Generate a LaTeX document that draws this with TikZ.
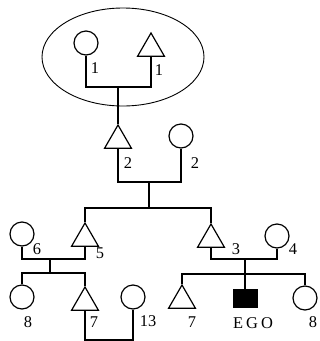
\documentclass[tikz,border=0pt]{standalone}
\usepackage{fontspec}
\setmainfont{Liberation Serif}
\usepackage{tikz}
\usetikzlibrary{shapes.geometric}

\tikzset{
  female/.style={draw,circle,line width=1.2pt,minimum size=24bp,inner sep=0pt},
  male/.style={draw,regular polygon,regular polygon sides=3,line width=1.2pt,minimum size=31bp,inner sep=0pt},
  egobox/.style={draw,fill=black,rectangle,minimum width=24bp,minimum height=18bp,inner sep=0pt},
  kin/.style={line width=1.8pt},
  lab/.style={inner sep=0pt,font=\fontsize{16.5}{18}\selectfont}
}

\begin{document}
\begin{tikzpicture}[x=1bp,y=-1bp]
    \useasboundingbox (0,0) rectangle (320,341);
    \draw[line width=0.9pt] (123,57) ellipse [x radius=81,y radius=49];
    % people
    \node[female] (f1) at (86,43) {};
    \node[male] (m1) at (151,48.5) {};
    \node[male] (m2) at (118,140.5) {};
    \node[female] (f2) at (181,136) {};
    \node[female] (f6) at (22,234) {};
    \node[male] (m5) at (85,238.5) {};
    \node[male] (m3) at (211,239.5) {};
    \node[female] (f4) at (277,236) {};
    \node[female] (f8) at (22,297) {};
    \node[male] (m7) at (85,302.5) {};
    \node[female] (f13) at (133,297) {};
    \node[male] (m7b) at (182,300.5) {};
    \node[egobox] (ego) at (245,298.5) {};
    \node[female] (f8b) at (305,298) {};
    % junctions
    \coordinate (j1) at (118,87);
    \coordinate (j2) at (149,182);
    \coordinate (s2) at (149,208);
    \coordinate (j3) at (50,259);
    \coordinate (s3) at (50,273);
    \coordinate (j4) at (245,259);
    \coordinate (s4) at (245,274);
    \coordinate (j5) at (110,340);
    % lines
    \draw[kin] (f1.south) |- (j1) -| (m1.south);
    \draw[kin] (j1) -- (m2.corner 1);
    \draw[kin] (m2.south) |- (j2) -| (f2.south);
    \draw[kin] (j2) -- (s2);
    \draw[kin] (m5.corner 1) |- (s2) -| (m3.corner 1);
    \draw[kin] (f6.south) |- (j3) -| (m5.south);
    \draw[kin] (m3.south) |- (j4) -| (f4.south);
    \draw[kin] (j3) -- (s3);
    \draw[kin] (f8.north) |- (s3) -| (m7.corner 1);
    \draw[kin] (j4) -- (ego.north);
    \draw[kin] (m7b.corner 1) |- (s4) -| (f8b.north);
    \draw[kin] (m7.south) |- (j5) -| (f13.south);
    % numbers
    \foreach \x/\y/\t [count=\i] in {95/68/1,159/70/1,128/163/2,195/163/2,
      37/249/6,100/253/5,236/249/3,293/249/4,
      28/322/8,94/322/7,148/321/13,192/322/7,313/322/8}
    {
      \node[lab] (n\i) at (\x,\y) {\t};
    }
    \node[lab] (egolab) at (253,323) {E\kern3bp G\kern3bp O};
\end{tikzpicture}
\end{document}
